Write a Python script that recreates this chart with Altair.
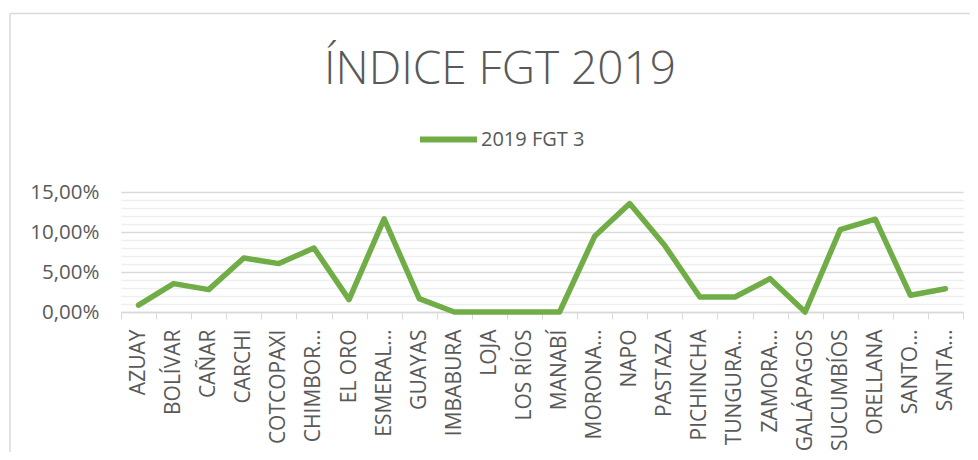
import altair as alt
import pandas as pd

provincias = ["AZUAY", "BOLÍVAR", "CAÑAR", "CARCHI", "COTCOPAXI", "CHIMBOR…",
              "EL ORO", "ESMERAL…", "GUAYAS", "IMBABURA", "LOJA", "LOS RÍOS",
              "MANABÍ", "MORONA…", "NAPO", "PASTAZA", "PICHINCHA", "TUNGURA…",
              "ZAMORA…", "GALÁPAGOS", "SUCUMBÍOS", "ORELLANA", "SANTO…", "SANTA…"]
valores = [0.0085, 0.0355, 0.028, 0.0675, 0.0605, 0.080, 0.0155, 0.1165, 0.0167,
           0.0, 0.0, 0.0, 0.0, 0.0946, 0.1355, 0.083, 0.0188, 0.0188, 0.0417,
           0.0, 0.103, 0.116, 0.021, 0.029]
serie = "2019 FGT 3"
y_ticks = [i / 100 for i in range(0, 16)]

df = pd.DataFrame({"provincia": provincias, "valor": valores, "serie": serie})

FONT = "Open Sans"
GRAY = "#595959"

x = alt.X("provincia:N", sort=provincias, title=None,
          scale=alt.Scale(paddingInner=0, paddingOuter=0),
          axis=alt.Axis(labelAngle=-90, labelFont=FONT, labelFontSize=21,
                        labelColor=GRAY, labelPadding=10, tickBand="extent",
                        tickColor="#d9d9d9", tickSize=7, domainColor="#d9d9d9",
                        domainWidth=1.5, labelLimit=300, grid=False))
y = alt.Y("valor:Q", title=None,
          scale=alt.Scale(domain=[0, 0.15], nice=False),
          axis=alt.Axis(values=y_ticks, labelFont=FONT, labelFontSize=20.5,
                        labelColor=GRAY, ticks=False, domain=False, labelPadding=22,
                        labelExpr="round(datum.value*100) % 5 == 0 ? replace(format(datum.value, '.2%'), '.', ',') : ''",
                        gridColor={"condition": {"test": "round(datum.value*100) % 5 == 0", "value": "#d9d9d9"}, "value": "#eeeeee"},
                        gridWidth=1.5))

line = alt.Chart(df).mark_line(strokeWidth=5.5, strokeCap="round", strokeJoin="round").encode(
    x=x, y=y,
    color=alt.Color("serie:N", scale=alt.Scale(range=["#70ad47"]), title=None,
                    legend=alt.Legend(orient="none", legendX=296, legendY=-84,
                                      symbolType="stroke", symbolSize=3249,
                                      symbolStrokeWidth=6, labelFont=FONT,
                                      labelFontSize=20, labelColor=GRAY,
                                      labelOffset=1, padding=0))
)

frame_df = pd.DataFrame({"k": [0]})
top_border = alt.Chart(frame_df).mark_rule(color="#d9d9d9", strokeWidth=1.5).encode(
    x=alt.value(-111), x2=alt.value(857), y=alt.value(-178.5))
left_border = alt.Chart(frame_df).mark_rule(color="#d9d9d9", strokeWidth=1.5).encode(
    x=alt.value(-111), y=alt.value(-178.5), y2=alt.value(276))

chart = alt.layer(top_border, left_border, line).properties(
    width=842, height=120,
    autosize=alt.AutoSizeParams(type="none"),
    padding={"left": 113, "top": 184, "right": 7, "bottom": 140},
    title=alt.TitleParams("ÍNDICE FGT 2019", font=FONT, fontSize=46, fontWeight=300,
                          color=GRAY, anchor="middle", dx=-42, offset=-81),
).configure_view(stroke=None)

chart.save("out.html", embed_options={"renderer": "svg", "actions": False})
